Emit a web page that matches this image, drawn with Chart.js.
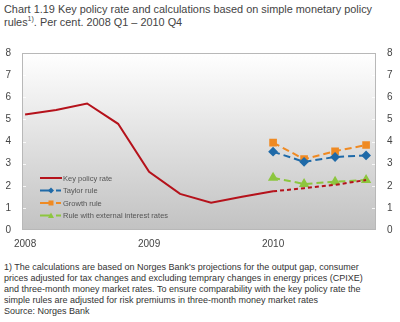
<!DOCTYPE html>
<html>
<head>
<meta charset="utf-8">
<script src="https://cdn.jsdelivr.net/npm/chart.js@4/dist/chart.umd.min.js"></script>
<style>
  body { margin: 0; width: 400px; height: 322px; background: #fff; font-family: "Liberation Sans", Arial, sans-serif; position: relative; overflow: hidden; }
  #title { position: absolute; left: 4px; top: 3px; font-size: 10.9px; line-height: 13px; color: #444; white-space: nowrap; }
  #title sup { font-size: 7px; line-height: 0; }
  #wrap { position: absolute; left: 0; top: 36px; width: 400px; height: 216px; }
  #note { position: absolute; left: 4px; top: 262px; font-size: 9px; line-height: 11px; color: #333; white-space: nowrap; }
</style>
</head>
<body>
<div id="title">Chart 1.19 Key policy rate and calculations based on simple monetary policy<br>rules<sup>1)</sup>. Per cent. 2008 Q1 – 2010 Q4</div>
<div id="wrap"><canvas id="ChartCanvas" width="400" height="216"></canvas></div>
<div id="note">1) The calculations are based on Norges Bank's projections for the output gap, consumer<br>prices adjusted for tax changes and excluding temprary changes in energy prices (CPIXE)<br>and three-month money market rates. To ensure comparability with the key policy rate the<br>simple rules are adjusted for risk premiums in three-month money market rates<br>Source: Norges Bank</div>

<script>
// quarters 2008 Q1 .. 2010 Q4
const quarters = ['2008 Q1','2008 Q2','2008 Q3','2008 Q4','2009 Q1','2009 Q2','2009 Q3','2009 Q4','2010 Q1','2010 Q2','2010 Q3','2010 Q4'];
const yearLabels = ['2008', '2009', '2010'];
const keyRate = [5.22, 5.42, 5.72, 4.8, 2.63, 1.63, 1.23, 1.5, 1.75, null, null, null];
const keyRateProj = [null, null, null, null, null, null, null, null, 1.75, 1.89, 2.04, 2.26];
const taylorRule = [null, null, null, null, null, null, null, null, 3.54, 3.08, 3.3, 3.37];
const growthRule = [null, null, null, null, null, null, null, null, 3.95, 3.2, 3.56, 3.84];
const externalRule = [null, null, null, null, null, null, null, null, 2.36, 2.08, 2.18, 2.26];

function toPoints(arr) {
  return arr.map((v, i) => ({ x: i, y: v })).filter(p => p.y !== null);
}

const bgPlugin = {
  id: 'bg',
  beforeDraw(chart) {
    const { ctx, chartArea: a } = chart;
    const g = ctx.createLinearGradient(0, a.top, 0, a.bottom);
    g.addColorStop(0, '#ffffff');
    g.addColorStop(1, '#c2c2c2');
    ctx.save();
    ctx.fillStyle = g;
    ctx.fillRect(a.left, a.top, a.right - a.left, a.bottom - a.top);
    ctx.restore();
  },
  afterDraw(chart) {
    const { ctx, chartArea: a } = chart;
    const ys = chart.scales.y;
    ctx.save();
    // small inner ticks
    ctx.strokeStyle = 'rgba(255,255,255,0.8)';
    ctx.lineWidth = 1;
    for (let v = 1; v < 8; v++) {
      const py = Math.round(ys.getPixelForValue(v)) + 0.5;
      ctx.beginPath();
      ctx.moveTo(a.left, py); ctx.lineTo(a.left + 4, py);
      ctx.moveTo(a.right - 4, py); ctx.lineTo(a.right, py);
      ctx.stroke();
    }
    ctx.strokeStyle = '#b8b8b8';
    ctx.strokeRect(a.left + 0.5, a.top + 0.5, a.right - a.left - 1, a.bottom - a.top - 1);

    // legend inside plot
    const items = [
      { ds: 0, text: 'Key policy rate' },
      { ds: 2, text: 'Taylor rule' },
      { ds: 3, text: 'Growth rule' },
      { ds: 4, text: 'Rule with external interest rates' }
    ];
    const rowY = [178, 190.5, 203, 215.5];
    ctx.font = '7.5px "Liberation Sans", Arial, sans-serif';
    ctx.textBaseline = 'middle';
    items.forEach((it, k) => {
      const ds = chart.data.datasets[it.ds];
      const y = rowY[k] - 36;
      ctx.strokeStyle = ds.borderColor;
      ctx.lineWidth = 2;
      if (k === 0) {
        ctx.beginPath(); ctx.moveTo(40, y); ctx.lineTo(62, y); ctx.stroke();
      } else {
        ctx.beginPath(); ctx.moveTo(40, y); ctx.lineTo(51, y); ctx.moveTo(56, y); ctx.lineTo(61, y); ctx.stroke();
        ctx.fillStyle = ds.borderColor;
        const m = 3;
        ctx.beginPath();
        if (ds.pointStyle === 'rectRot') {
          ctx.moveTo(51, y - m); ctx.lineTo(51 + m, y); ctx.lineTo(51, y + m); ctx.lineTo(51 - m, y);
        } else if (ds.pointStyle === 'rect') {
          ctx.rect(48.5, y - 2.5, 5, 5);
        } else {
          ctx.moveTo(51, y - m); ctx.lineTo(51 + m, y + m * 0.8); ctx.lineTo(51 - m, y + m * 0.8);
        }
        ctx.closePath(); ctx.fill();
      }
      ctx.fillStyle = '#555';
      ctx.fillText(it.text, 63, y + 0.5);
    });
    ctx.restore();
  }
};

const tickFont = { size: 10, family: '"Liberation Sans", Arial, sans-serif' };

const myChart = document.getElementById('ChartCanvas');
new Chart(myChart, {
  type: 'line',
  data: {
    datasets: [{
      label: 'Key policy rate',
      data: toPoints(keyRate),
      borderColor: '#b5121b',
      borderWidth: 2,
      pointRadius: 0,
      tension: 0
    }, {
      label: 'Key policy rate (projection)',
      data: toPoints(keyRateProj),
      borderColor: '#b5121b',
      borderWidth: 2,
      borderDash: [4, 3],
      pointRadius: 0
    }, {
      label: 'Taylor rule',
      data: toPoints(taylorRule),
      borderColor: '#1f6aa8',
      backgroundColor: '#1f6aa8',
      borderWidth: 2,
      borderDash: [7, 4],
      pointStyle: 'rectRot',
      pointRadius: 3.5
    }, {
      label: 'Growth rule',
      data: toPoints(growthRule),
      borderColor: '#ef8a23',
      backgroundColor: '#ef8a23',
      borderWidth: 2,
      borderDash: [7, 4],
      pointStyle: 'rect',
      pointRadius: 4
    }, {
      label: 'Rule with external interest rates',
      data: toPoints(externalRule),
      borderColor: '#8dc63f',
      backgroundColor: '#8dc63f',
      borderWidth: 2,
      borderDash: [7, 4],
      pointStyle: 'triangle',
      pointRadius: 4
    }]
  },
  options: {
    responsive: false,
    animation: false,
    layout: { padding: { top: 12, left: 0, right: 0, bottom: 0 } },
    plugins: { legend: { display: false }, tooltip: { enabled: false } },
    scales: {
      x: {
        type: 'linear',
        min: -0.1,
        max: 11.32,
        grid: { display: false, drawTicks: false },
        border: { display: false },
        afterBuildTicks(scale) { scale.ticks = [{ value: 0 }, { value: 4 }, { value: 8 }]; },
        afterFit(scale) { scale.height = 22; },
        ticks: {
          color: '#444',
          font: tickFont,
          padding: 8,
          maxRotation: 0,
          callback: (v) => yearLabels[v / 4]
        }
      },
      y: {
        position: 'left',
        min: 0, max: 8,
        grid: { display: false, drawTicks: false },
        border: { display: false },
        afterFit(scale) { scale.width = 22; },
        ticks: { stepSize: 1, autoSkip: false, color: '#444', padding: 11, font: tickFont }
      },
      y2: {
        position: 'right',
        min: 0, max: 8,
        grid: { display: false, drawTicks: false },
        border: { display: false },
        afterFit(scale) { scale.width = 24; },
        ticks: { stepSize: 1, autoSkip: false, color: '#444', padding: 11, font: tickFont }
      }
    }
  },
  plugins: [bgPlugin]
});
</script>
</body>
</html>
